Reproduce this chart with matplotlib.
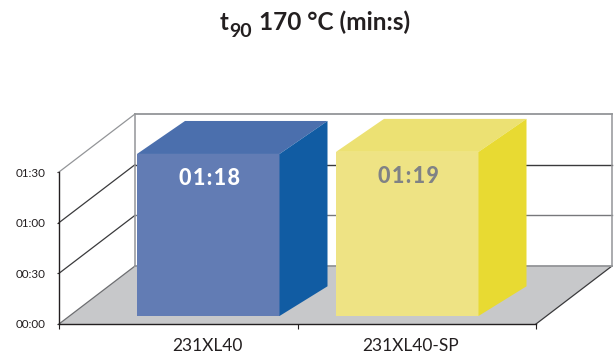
import matplotlib
matplotlib.use('Agg')
import matplotlib.pyplot as plt
from matplotlib.patches import Polygon

categories = ['231XL40', '231XL40-SP']
t90_seconds = [78, 79]
y_ticks = [0, 30, 60, 90]
y_tick_labels = ['00:00', '00:30', '01:00', '01:30']

FRONT = ['#627cb4', '#eee384']
TOP = ['#4b6fad', '#ece173']
SIDE = ['#115ca3', '#e8da32']
LABEL_COLOR = ['white', '#808285']
GREY_LINE = '#939598'
DARK_LINE = '#3a3a3c'

# pixel size of one axis unit, the axes are sized so these stay exact
PX_X = 238.5
PX_Y = 152 / 90
# shift of the back wall
WALL_DX = 76 / PX_X
WALL_DY = 58 / PX_Y
# bar layout
BAR_LEFT = [78 / PX_X, 277 / PX_X]
BAR_W = 142.5 / PX_X
BAR_BASE = 8 / PX_Y
BAR_SCALE = 1.23
BAR_DX = 48 / PX_X
BAR_DY = 33 / PX_Y

plt.rcParams['font.family'] = 'Lato'


def mm_ss(sec):
    return '%02d:%02d' % (sec // 60, sec % 60)


def spaced(s):
    return '\u200a'.join(s)


def draw_bar(ax, left, value, i):
    right = left + BAR_W
    top = BAR_BASE + value * BAR_SCALE
    ax.add_patch(Polygon([(left, BAR_BASE), (right, BAR_BASE), (right, top), (left, top)],
                         fc=FRONT[i], ec='none', zorder=5, clip_on=False))
    ax.add_patch(Polygon([(left, top), (right, top), (right + BAR_DX, top + BAR_DY), (left + BAR_DX, top + BAR_DY)],
                         fc=TOP[i], ec='none', zorder=5, clip_on=False))
    ax.add_patch(Polygon([(right, BAR_BASE), (right + BAR_DX, BAR_BASE + BAR_DY * 0.9),
                          (right + BAR_DX, top + BAR_DY), (right, top)],
                         fc=SIDE[i], ec='none', zorder=5, clip_on=False))
    ax.text(left + BAR_W / 2 + 1 / PX_X, top - 25 / PX_Y, spaced(mm_ss(value)), color=LABEL_COLOR[i],
            fontsize=15.5, fontweight='black', ha='center', va='center', zorder=6)


fig = plt.figure(figsize=(6.16, 3.58), dpi=100)
ax = fig.add_axes([59 / 616, 34 / 358, 477 / 616, 152 / 358])
ax.set_xlim(0, 2)
ax.set_ylim(0, 90)
ax.patch.set_visible(False)

# floor
ax.add_patch(Polygon([(0, 0), (2, 0), (2 + WALL_DX, WALL_DY), (WALL_DX, WALL_DY)],
                     fc='#c7c8ca', ec='none', zorder=1, clip_on=False))
ax.plot([2, 2 + WALL_DX], [0, WALL_DY], color=DARK_LINE, lw=0.9, zorder=2, clip_on=False)
ax.plot([0, WALL_DX], [0, WALL_DY], color='#6d6e71', lw=0.9, zorder=2, clip_on=False)

# walls and grid lines
for v in y_ticks[1:]:
    c = GREY_LINE if v == 90 else DARK_LINE
    ax.plot([0, WALL_DX], [v, v + WALL_DY], color=c, lw=0.9, zorder=2, clip_on=False)
for v in y_ticks:
    c = DARK_LINE if v == 60 else ('#77787b' if v == 30 else GREY_LINE)
    lw = 1.3 if v in (0, 90) else 1.0
    ax.plot([WALL_DX, 2 + WALL_DX], [v + WALL_DY, v + WALL_DY], color=c, lw=lw, zorder=2, clip_on=False)
ax.plot([WALL_DX, WALL_DX], [WALL_DY, 90 + WALL_DY], color=GREY_LINE, lw=1.1, zorder=2, clip_on=False)
ax.plot([2 + WALL_DX, 2 + WALL_DX], [WALL_DY, 90 + WALL_DY], color=GREY_LINE, lw=1.1, zorder=2, clip_on=False)

for i, (left, val) in enumerate(zip(BAR_LEFT, t90_seconds)):
    draw_bar(ax, left, val, i)

# axes
for side in ('top', 'right'):
    ax.spines[side].set_visible(False)
for side in ('left', 'bottom'):
    ax.spines[side].set_color('#231f20')
    ax.spines[side].set_linewidth(1.0)
    ax.spines[side].set_zorder(4)
ax.set_yticks(y_ticks)
ax.set_yticklabels(y_tick_labels)
ax.tick_params(axis='y', length=1.5, width=0.8, pad=8, labelsize=8.4, labelcolor='#231f20', color='#231f20')
ax.set_xticks([0, 1, 2])
ax.set_xticklabels([])
ax.tick_params(axis='x', which='major', length=3.5, width=0.8, color='#231f20')
ax.set_xticks([0.622, 1.473], minor=True)
ax.set_xticklabels(categories, minor=True)
ax.tick_params(axis='x', which='minor', length=0, pad=10, labelsize=12.5, labelcolor='#231f20')

# title pieces, the subscript sits lower and smaller
title_kw = dict(family='Lato', fontweight='bold', color='#231f20', va='baseline')
fig.text(220 / 616, 1 - 30 / 358, 't', fontsize=17, **title_kw)
fig.text(229 / 616, 1 - 37 / 358, '90', fontsize=14, **title_kw)
fig.text(259 / 616, 1 - 30 / 358, '170 °C (min:s)', fontsize=17.6, **title_kw)

fig.savefig('out.png', dpi=100)
